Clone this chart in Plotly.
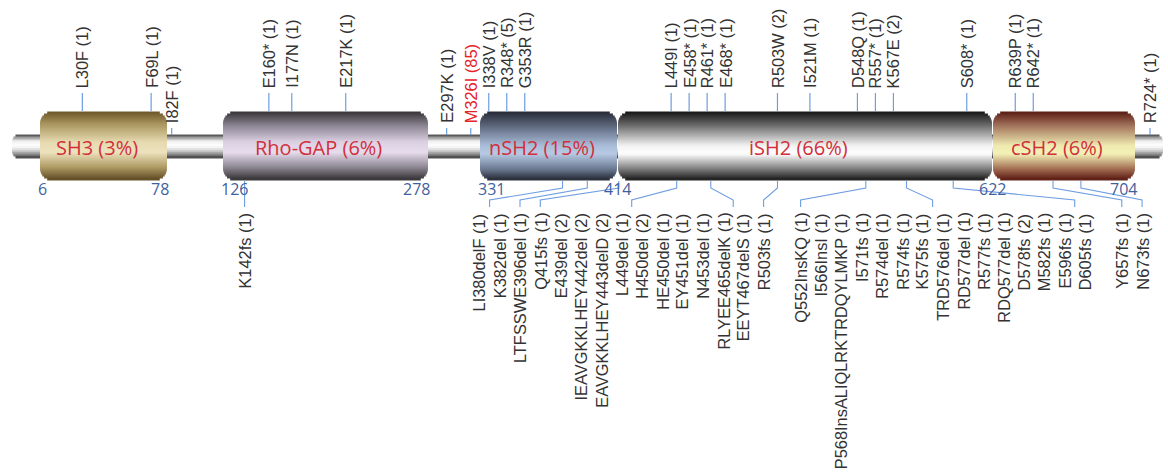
import numpy as np
import plotly.graph_objects as go

# ---------------- data ----------------
protein_length = 724
domain_names = ["SH3", "Rho-GAP", "nSH2", "iSH2", "cSH2"]
domain_starts = [6, 126, 331, 414, 622]
domain_ends = [78, 278, 414, 622, 704]
domain_pct = [3, 6, 15, 66, 6]

top_labels = ["L30F", "F69L", "I82F", "E160*", "I177N", "E217K", "E297K", "M326I",
              "I338V", "R348*", "G353R", "L449I", "E458*", "R461*", "E468*", "R503W",
              "I521M", "D548Q", "R557*", "K567E", "S608*", "R639P", "R642*", "R724*"]
top_pos = [30, 69, 82, 160, 177, 217, 297, 326, 338, 348, 353, 449, 458, 461, 468, 503,
           521, 548, 557, 567, 608, 639, 642, 724]
top_counts = [1, 1, 1, 1, 1, 1, 1, 85, 1, 5, 1, 1, 1, 1, 1, 2, 1, 1, 1, 2, 1, 1, 1, 1]
highlight_label = "M326I"

bottom_labels = ["K142fs", "LI380delF", "K382del", "LTFSSWE396del", "Q415fs", "E439del",
                 "IEAVGKKLHEY442del", "EAVGKKLHEY443delD", "L449del", "H450del", "HE450del",
                 "EY451del", "N453del", "RLYEE465delK", "EEYT467delS", "R503fs", "Q552InsKQ",
                 "I566InsI", "P568InsALIQLRKTRDQYLMKP", "I571fs", "R574del", "R574fs", "K575fs",
                 "TRD576del", "RD577del", "R577fs", "RDQ577del", "D578fs", "M582fs", "E596fs",
                 "D605fs", "Y657fs", "N673fs"]
bottom_pos = [142, 380, 382, 396, 415, 439, 442, 443, 449, 450, 450, 451, 453, 465, 467, 503,
              552, 566, 568, 571, 574, 574, 575, 576, 577, 577, 577, 578, 582, 596, 605, 657, 673]
bottom_counts = [1, 1, 1, 1, 1, 2, 2, 2, 1, 2, 1, 1, 1, 1, 1, 1, 1, 1, 1, 1, 1, 1, 1, 1, 1, 1,
                 1, 2, 1, 1, 1, 1, 1]

# ---------------- layout / style ----------------
W, H = 1168, 473
# piecewise-linear display scale (the diagram is not drawn to a single linear scale)
bounds = sorted(set(domain_starts + domain_ends))
scale_aa = [0] + bounds + [protein_length]
scale_px = [12, 40, 167, 223, 428, 480, 617, 992, 1135, 1150]


def sx(aa):
    return float(np.interp(aa, scale_aa, scale_px))


BOX_TOP, BOX_BOT, BOX_R = 112, 180, 12
BB_TOP, BB_BOT, BB_R, BB_CAP = 135, 158, 7, 13
TICK_C = "#6e9de2"
LABEL_FONT = "Liberation Sans, Arial, sans-serif"
NUM_FONT = "Open Sans, sans-serif"

domain_grad = {
    "SH3": [(0, "#6b5527"), (0.18, "#a8945e"), (0.45, "#e6dab0"), (0.6, "#ece2bc"), (0.82, "#ae9a64"), (1, "#5e4a22")],
    "Rho-GAP": [(0, "#353335"), (0.2, "#888290"), (0.45, "#dcd1e3"), (0.6, "#e6dcec"), (0.82, "#8c8692"), (1, "#353335")],
    "nSH2": [(0, "#262a36"), (0.2, "#5a6478"), (0.5, "#a9bcd8"), (0.62, "#b7c9e4"), (0.85, "#6a7890"), (1, "#262a36")],
    "iSH2": [(0, "#141414"), (0.2, "#6a6a6a"), (0.5, "#f2f2f2"), (0.62, "#ffffff"), (0.85, "#7a7a7a"), (1, "#1c1c1c")],
    "cSH2": [(0, "#5a1a12"), (0.2, "#a0705a"), (0.5, "#eeeab0"), (0.62, "#f4f2b8"), (0.85, "#a06a50"), (1, "#5a1a12")],
}
bb_grad = [(0, "#383838"), (0.12, "#9a9a9a"), (0.3, "#f2f2f2"), (0.5, "#ffffff"),
           (0.7, "#d0d0d0"), (0.88, "#808080"), (1, "#383838")]


def hex2rgb(h):
    return [int(h[i:i + 2], 16) for i in (1, 3, 5)]


def grad(stops, t):
    ts = [s[0] for s in stops]
    cols = np.array([hex2rgb(s[1]) for s in stops], float)
    c = [np.interp(t, ts, cols[:, k]) for k in range(3)]
    return "rgb(%d,%d,%d)" % tuple(int(round(v)) for v in c)


def tube(x0, x1, y0, y1, r, stops, n):
    out = []
    h = (y1 - y0) / n
    for j in range(n):
        ya = y0 + j * h
        yb = ya + h
        ym = (ya + yb) / 2
        dy = min(ym - y0, y1 - ym)
        ins = r - np.sqrt(max(r * r - (r - dy) ** 2, 0)) if dy < r else 0
        out.append(dict(type="rect", xref="x", yref="y", x0=x0 + ins, x1=x1 - ins,
                        y0=ya - 0.4, y1=yb + 0.4,
                        fillcolor=grad(stops, (ym - y0) / (y1 - y0)),
                        line=dict(width=0)))
    return out


def spread(desired, gaps):
    n = len(desired)
    offs = np.concatenate([[0.0], np.cumsum(gaps)])
    cl = [[i, i] for i in range(n)]

    def base(c):
        i0, i1 = c
        return np.mean([desired[k] - (offs[k] - offs[i0]) for k in range(i0, i1 + 1)])

    changed = True
    while changed:
        changed = False
        for j in range(len(cl) - 1):
            a, b = cl[j], cl[j + 1]
            end_a = base(a) + offs[a[1]] - offs[a[0]]
            if base(b) - end_a < gaps[a[1]] - 1e-9:
                cl[j] = [a[0], b[1]]
                del cl[j + 1]
                changed = True
                break
    pos = np.zeros(n)
    for c in cl:
        b0 = base(c)
        for k in range(c[0], c[1] + 1):
            pos[k] = b0 + offs[k] - offs[c[0]]
    return pos


def in_domain(aa):
    return any(s <= aa <= e for s, e in zip(domain_starts, domain_ends))


shapes = []
annotations = []

# backbone
shapes += tube(sx(0), sx(protein_length) + BB_CAP, BB_TOP, BB_BOT, BB_R, bb_grad, 12)

# domains
for name, s, e, p in zip(domain_names, domain_starts, domain_ends, domain_pct):
    x0, x1 = sx(s), sx(e)
    if s in domain_ends:
        x0 += 1
    shapes += tube(x0, x1, BOX_TOP, BOX_BOT, BOX_R, domain_grad[name], 34)
    annotations.append(dict(x=(x0 + x1) / 2, y=147, xref="x", yref="y", text=f"{name} ({p}%)",
                            showarrow=False, xshift=-7,
                            font=dict(family=NUM_FONT, size=20, color="#d22f3b")))

# boundary numbers
for v in bounds:
    is_start = v in domain_starts
    is_end = v in domain_ends
    if is_start and is_end:
        xa, xs = "center", 0
    elif is_start:
        xa, xs = "left", -4
    else:
        xa, xs = "right", 4
    annotations.append(dict(x=sx(v), y=189, xref="x", yref="y", text=str(v), showarrow=False,
                            xanchor=xa, xshift=xs, yanchor="middle",
                            font=dict(family=NUM_FONT, size=16, color="#3f5f9e")))

# top mutations
top_x = spread([sx(p) for p in top_pos], [18.0] * (len(top_pos) - 1))
for lab, p, c, x in zip(top_labels, top_pos, top_counts, top_x):
    dom = in_domain(p)
    t0, t1, ty = (93, 111, 90) if dom else (128, 135, 125)
    shapes.append(dict(type="line", xref="x", yref="y", x0=x, x1=x, y0=t0, y1=t1,
                       line=dict(color=TICK_C, width=1.2)))
    col = "#e4232b" if lab == highlight_label else "#333333"
    annotations.append(dict(x=x, y=ty, xref="x", yref="y", text=f"{lab} ({c})", showarrow=False,
                            textangle=-90, xanchor="center", yanchor="bottom",
                            font=dict(family=LABEL_FONT, size=16.4, color=col)))

# bottom mutations
bgaps = [37.0 if (b - a) >= 40 else 20.3 for a, b in zip(bottom_pos[:-1], bottom_pos[1:])]
bot_x = spread([sx(p) for p in bottom_pos], bgaps)
for lab, c, x in zip(bottom_labels, bottom_counts, bot_x):
    annotations.append(dict(x=x, y=211, xref="x", yref="y", text=f"{lab} ({c})", showarrow=False,
                            textangle=-90, xanchor="center", yanchor="top",
                            font=dict(family=LABEL_FONT, size=16.4, color="#333333")))

# connectors: one per group of nearby mutations
groups = [[0]]
for i in range(1, len(bottom_pos)):
    if bottom_pos[i] - bottom_pos[i - 1] <= 10:
        groups[-1].append(i)
    else:
        groups.append([i])
for g in groups:
    xa = sx(np.mean([bottom_pos[i] for i in g]))
    xb = float(np.mean([bot_x[i] for i in g]))
    path = f"M {xa:.1f},{BOX_BOT + 1} L {xa:.1f},188 L {xb:.1f},200 L {xb:.1f},207"
    shapes.append(dict(type="path", xref="x", yref="y", path=path,
                       line=dict(color=TICK_C, width=1.1)))

fig = go.Figure()
fig.update_layout(
    width=W, height=H, autosize=False,
    margin=dict(l=0, r=0, t=0, b=0, pad=0),
    paper_bgcolor="white", plot_bgcolor="white",
    xaxis=dict(range=[0, W], visible=False, fixedrange=True),
    yaxis=dict(range=[H, 0], visible=False, fixedrange=True),
    shapes=shapes, annotations=annotations, showlegend=False,
)
fig.write_html("out.html", config={"displayModeBar": False},
               post_script="document.body.style.margin='0';document.body.style.overflow='hidden';")
